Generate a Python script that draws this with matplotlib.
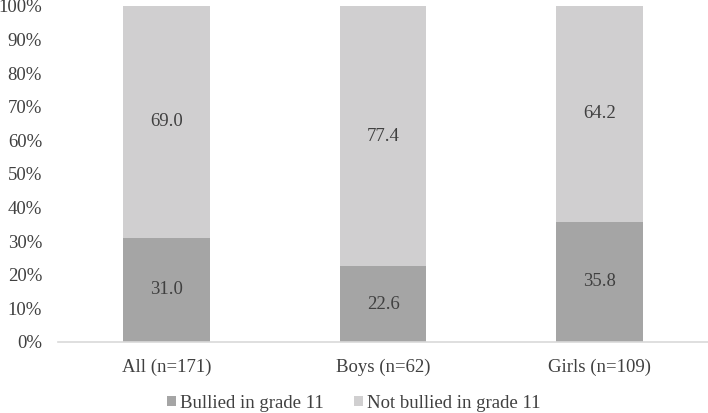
import matplotlib
matplotlib.use("Agg")
import matplotlib.pyplot as plt
from matplotlib.ticker import PercentFormatter

# Data
groups = ["All (n=171)", "Boys (n=62)", "Girls (n=109)"]
bullied = [31.0, 22.6, 35.8]
not_bullied = [69.0, 77.4, 64.2]

dark = "#a5a5a5"
light = "#d0cfd0"
txt = "#404040"

plt.rcParams["font.family"] = ["Liberation Serif", "DejaVu Serif"]

fig = plt.figure(figsize=(7.08, 4.13), dpi=100)
ax = fig.add_axes([58 / 708, 71 / 413, 650 / 708, 336 / 413])

x = list(range(len(groups)))
b1 = ax.bar(x, bullied, width=0.4, color=dark, label="Bullied in grade 11")
b2 = ax.bar(x, not_bullied, width=0.4, bottom=bullied, color=light,
            label="Not bullied in grade 11")

for i in x:
    ax.text(i, bullied[i] / 2, f"{bullied[i]:.1f}", ha="center", va="center",
            fontsize=13.5, color=txt)
    ax.text(i, bullied[i] + not_bullied[i] / 2, f"{not_bullied[i]:.1f}",
            ha="center", va="center", fontsize=13.5, color=txt)

ax.set_xlim(-0.5, 2.5)
ax.set_ylim(0, 100)
ax.set_yticks(range(0, 101, 10))
ax.yaxis.set_major_formatter(PercentFormatter(decimals=0))
ax.set_xticks(x)
ax.set_xticklabels(groups)
ax.tick_params(axis="both", length=0, labelsize=13.5, colors=txt)
ax.tick_params(axis="x", pad=12)
ax.tick_params(axis="y", pad=11.5)

for s in ["top", "right", "left"]:
    ax.spines[s].set_visible(False)
ax.spines["bottom"].set_color("#d9d9d9")
ax.spines["bottom"].set_linewidth(1.2)

fig.legend(handles=[b1, b2], loc="center", bbox_to_anchor=(0.5, 10 / 413),
           ncol=2, frameon=False, fontsize=13.5, handlelength=0.45,
           handleheight=0.45, handletextpad=0.25, columnspacing=1.6,
           labelcolor=txt)

fig.savefig("out.png", dpi=100)
